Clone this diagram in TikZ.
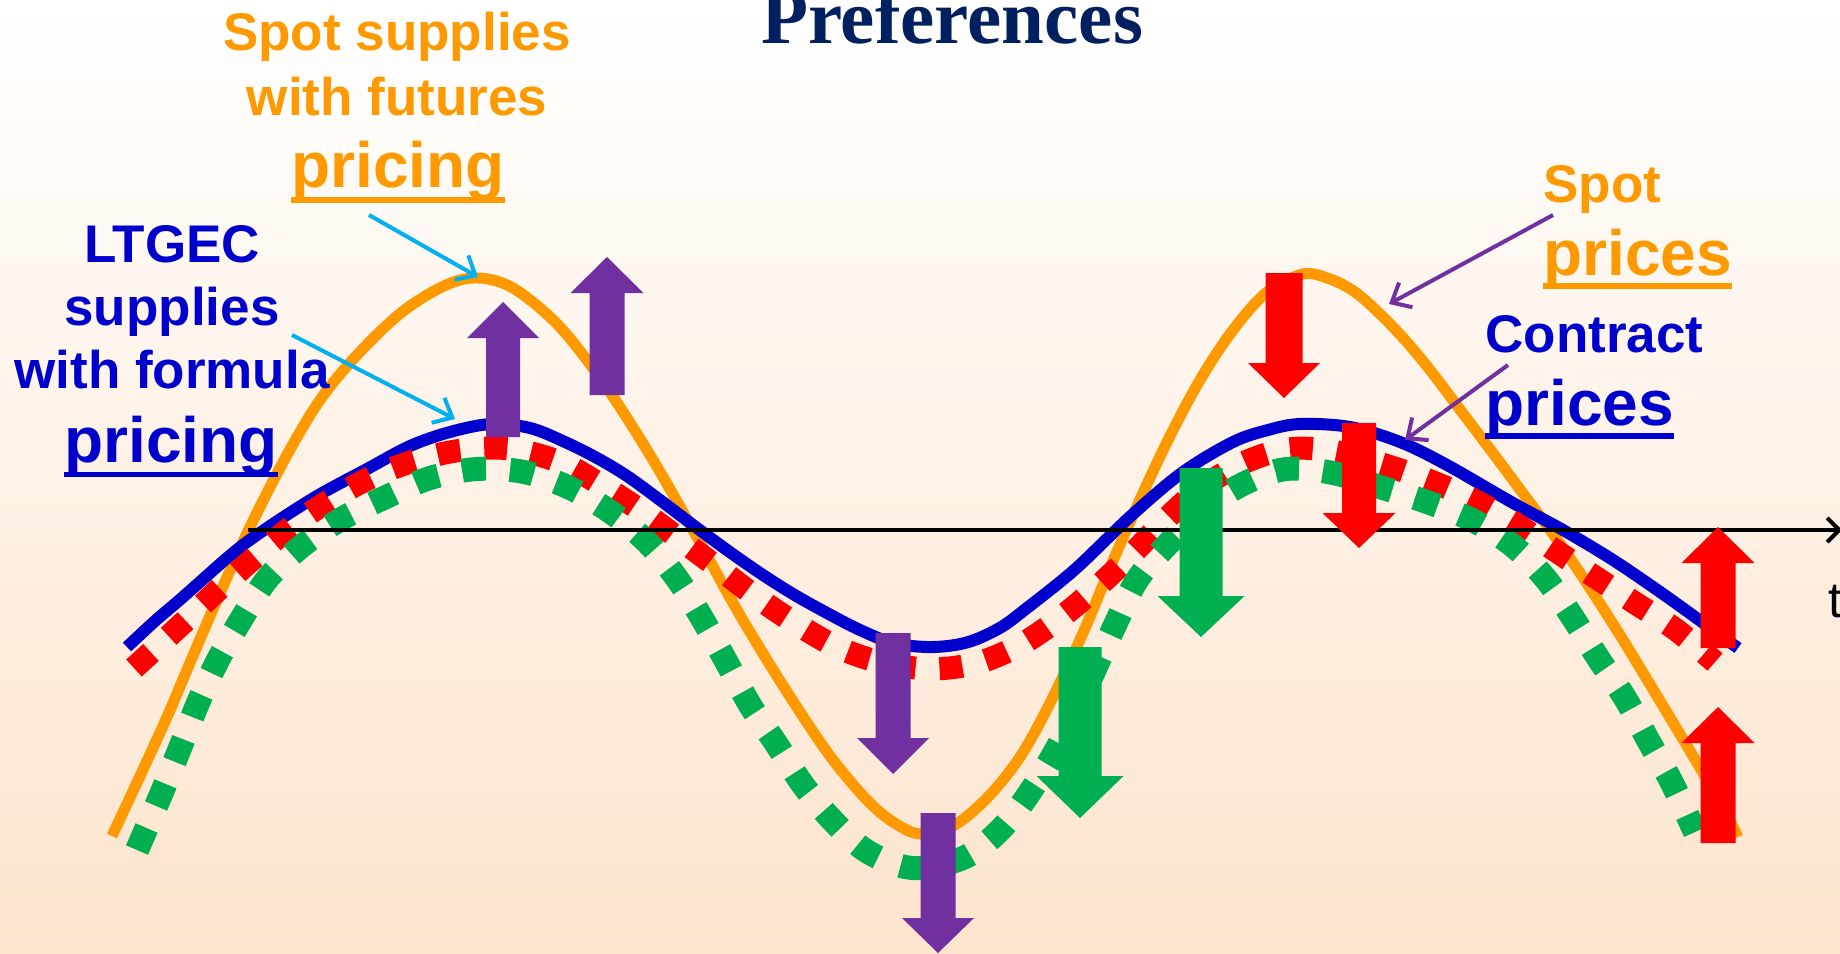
\documentclass[tikz,border=0pt]{standalone}
\usepackage{fontspec}
\setmainfont{Liberation Sans}
\newfontfamily\serifbf{Liberation Serif}
\usetikzlibrary{arrows.meta}
\definecolor{orng}{RGB}{255,153,0}
\definecolor{blu}{RGB}{0,0,204}
\definecolor{purp}{RGB}{112,48,160}
\definecolor{grn}{RGB}{0,176,80}
\definecolor{rd}{RGB}{255,0,0}
\definecolor{lblue}{RGB}{0,176,240}
\definecolor{navy}{RGB}{0,32,96}
\definecolor{peach}{RGB}{253,228,205}
% color, x, tail y, head-base y, tip y, half shaft, half head
\newcommand{\blkarrow}[7]{%
  \fill[#1] (#2-#6,#3) -- (#2-#6,#4) -- (#2-#7,#4) -- (#2,#5) -- (#2+#7,#4) -- (#2+#6,#4) -- (#2+#6,#3) -- cycle;}
\tikzset{
  lbl/.style={inner sep=0pt, anchor=base, font=\bfseries\fontsize{26.5pt}{30pt}\selectfont},
  lblbig/.style={inner sep=0pt, anchor=base, font=\bfseries\fontsize{32pt}{36pt}\selectfont},
  spotcurve/.style={orng, line width=5.5pt, line join=round},
  contractcurve/.style={blu, line width=6pt, line join=round},
  reddots/.style={rd, line width=11.5pt, dash pattern=on 11.5pt off 12pt},
  greendots/.style={grn, line width=12pt, dash pattern=on 12pt off 12pt},
  annot/.style={line width=2pt, -{Straight Barb[length=8pt,width=14pt]}},
}
\begin{document}
\begin{tikzpicture}[x=0.5pt,y=-0.5pt]
\useasboundingbox (0,0) rectangle (1840,953);
\shade[top color=white, middle color=white!62!peach, bottom color=peach] (0,0) rectangle (1840,953);

% spot prices (orange)
\draw[spotcurve] plot[smooth, tension=0.55] coordinates {
 (112,836) (140,776) (167,717) (192,658) (217,600) (250,527) (287,455) (320,400)
 (357,355) (402,312) (446,285) (478,278) (513,288) (558,325) (603,382) (650,455)
 (693,530) (733,603) (767,660) (800,712) (833,760) (867,800) (893,822) (920,834)
 (953,826) (987,798) (1020,757) (1050,703) (1083,633) (1110,568) (1133,515) (1167,442)
 (1200,380) (1233,330) (1267,292) (1303,274) (1330,279) (1355,292) (1380,314) (1405,340)
 (1430,370) (1455,403) (1480,436) (1513,480) (1563,548) (1613,624) (1663,706) (1713,790) (1738,837)};

% contract prices (blue)
\draw[contractcurve] plot[smooth, tension=0.55] coordinates {
 (127,647) (155,621) (183,597) (233,553) (267,528) (317,496) (367,469) (410,446)
 (450,432) (491,424) (530,428) (565,442) (597,458) (627,476) (660,500) (693,525)
 (727,550) (760,573) (793,594) (827,613) (860,630) (893,643) (927,647) (955,645)
 (977,639) (1003,626) (1027,608) (1060,582) (1083,562) (1133,514) (1183,472) (1233,442)
 (1268,430) (1300,424) (1350,427) (1400,442) (1447,465) (1513,503) (1563,530) (1613,560)
 (1663,594) (1713,630) (1738,648)};

% red dotted
\draw[reddots] plot[smooth, tension=0.55] coordinates {
 (134,668) (183,623) (218,590) (254,558) (291,527) (330,500) (372,477) (417,460)
 (463,450) (511,449) (560,462) (598,483) (640,510) (678,538) (717,567) (755,596)
 (795,623) (837,647) (880,662) (930,669) (977,663) (1020,645) (1060,618) (1097,587)
 (1132,554) (1165,520) (1200,489) (1243,463) (1288,449) (1333,451) (1385,465) (1428,480)
 (1472,499) (1513,522) (1553,549) (1595,577) (1635,603) (1675,629) (1715,662)};

% green dotted
\draw[greendots] plot[smooth, tension=0.55] coordinates {
 (137,850) (162,792) (180,748) (198,703) (218,660) (242,618) (268,578) (303,545)
 (343,518) (386,497) (430,478) (477,469) (524,472) (570,488) (612,513) (648,543)
 (678,580) (703,620) (727,663) (750,705) (777,745) (803,785) (833,821) (868,852)
 (913,868) (963,858) (998,832) (1028,795) (1064,735) (1115,625) (1137,580) (1167,545)
 (1203,510) (1243,484) (1286,469) (1333,473) (1383,488) (1427,502) (1472,520) (1512,545)
 (1545,578) (1573,618) (1598,658) (1625,698) (1648,740) (1672,783) (1695,832)};

% time axis
\coordinate (axs) at (248,530);
\coordinate (axe) at (1842,530);
\draw[line width=2pt, -{Straight Barb[length=6pt,width=12pt]}] (axs) -- (axe);
\node[inner sep=0pt, anchor=base west, font=\fontsize{25pt}{28pt}\selectfont] (tlab) at (1828,617) {t};

% title
\node[inner sep=0pt, anchor=base, text=navy, font=\serifbf\bfseries\fontsize{38.5pt}{42pt}\selectfont] (title) at (952,43) {Preferences};

% labels: spot supplies with futures pricing
\node[lbl, text=orng] (ss1) at (397,50) {Spot supplies};
\node[lbl, text=orng] (ss2) at (397,115) {with futures};
\node[lblbig, text=orng] (ss3) at (398,187) {pricing};
\fill[orng] ([yshift=-5pt]ss3.base west) rectangle ([yshift=-8pt]ss3.base east);

% labels: LTGEC
\node[lbl, text=blu] (lt1) at (172,262) {LTGEC};
\node[lbl, text=blu] (lt2) at (172,325) {supplies};
\node[lbl, text=blu] (lt3) at (172,388) {with formula};
\node[lblbig, text=blu] (lt4) at (171,462) {pricing};
\fill[blu] ([yshift=-5pt]lt4.base west) rectangle ([yshift=-7.5pt]lt4.base east);

% labels: right
\node[lbl, text=orng, anchor=base west] (sp1) at (1543,202) {Spot};
\node[lblbig, text=orng, anchor=base west] (sp2) at (1543,275) {prices};
\fill[orng] ([yshift=-4pt]sp2.base west) rectangle ([yshift=-7pt]sp2.base east);
\node[lbl, text=blu, anchor=base west] (cp1) at (1485,352) {Contract};
\node[lblbig, text=blu, anchor=base west] (cp2) at (1485,425) {prices};
\fill[blu] ([yshift=-4pt]cp2.base west) rectangle ([yshift=-7pt]cp2.base east);

% annotation arrows
\coordinate (a1s) at (369,215);
\coordinate (a1e) at (478,277);
\coordinate (a2s) at (292,335);
\coordinate (a2e) at (455,419);
\coordinate (a3s) at (1553,215);
\coordinate (a3e) at (1389,304);
\coordinate (a4s) at (1508,365);
\coordinate (a4e) at (1405,440);
\draw[annot, lblue] (a1s) -- (a1e);
\draw[annot, lblue] (a2s) -- (a2e);
\draw[annot, purp] (a3s) -- (a3e);
\draw[annot, purp] (a4s) -- (a4e);

% block arrows
\blkarrow{purp}{503}{437}{338}{302}{17}{36}
\blkarrow{purp}{607}{395}{293}{257}{17.5}{36.5}
\blkarrow{purp}{893}{633}{738}{774}{17.5}{36}
\blkarrow{purp}{938}{813}{918}{953}{17.5}{36}
\blkarrow{grn}{1080}{647}{776}{818}{21.5}{43.5}
\blkarrow{grn}{1201}{468}{596}{637}{21.5}{43.5}
\blkarrow{rd}{1284}{273}{363}{398}{18.5}{36}
\blkarrow{rd}{1359}{423}{513}{548}{17}{36.5}
\blkarrow{rd}{1718}{648}{563}{527}{17.5}{36.5}
\blkarrow{rd}{1718}{843}{743}{707}{17.5}{36.5}
\end{tikzpicture}
\end{document}
